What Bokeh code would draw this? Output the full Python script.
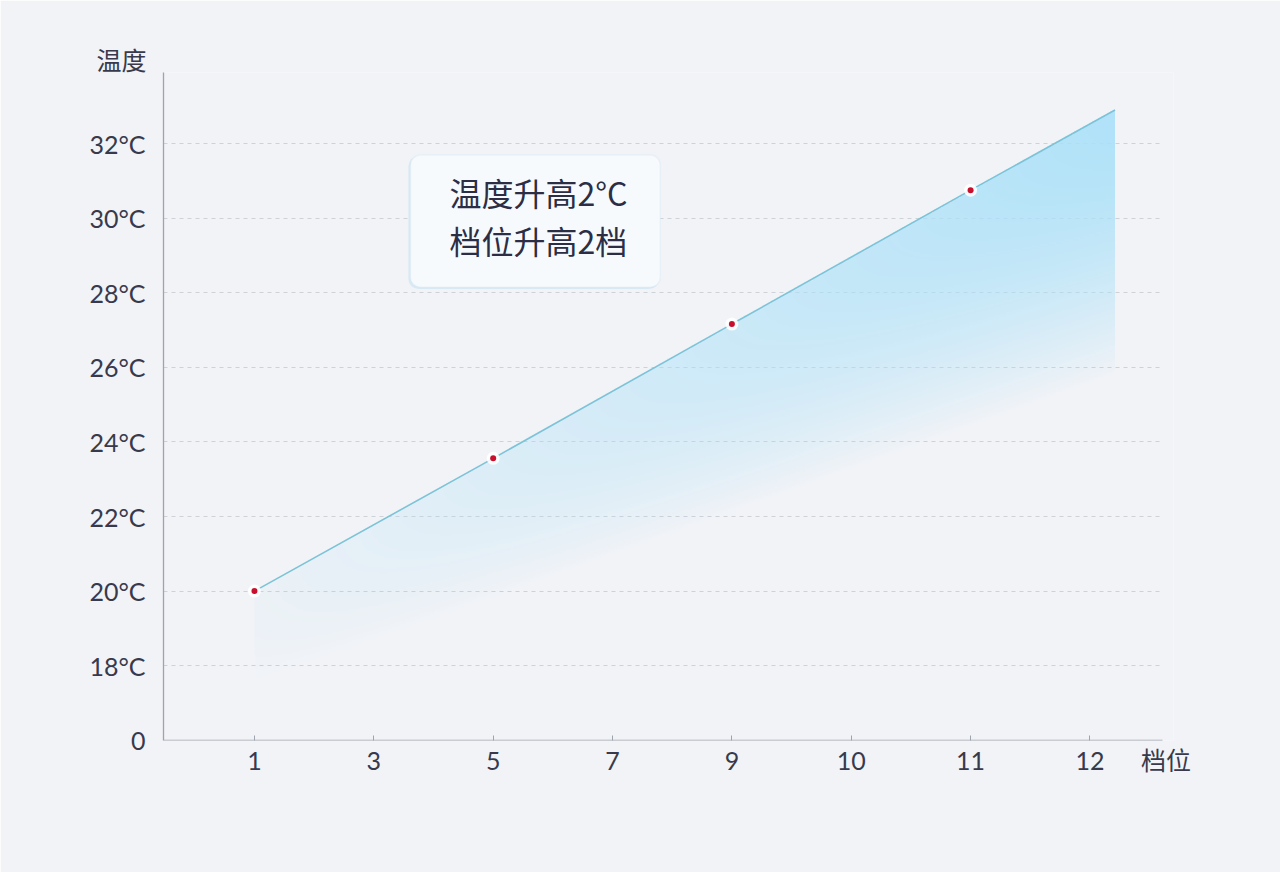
import numpy as np
from bokeh.plotting import figure
from bokeh.models import Range1d, FixedTicker, Label, BoxAnnotation, Grid
from bokeh.embed import file_html
from bokeh.resources import INLINE

# ---- data ----
gear_labels = ["1", "3", "5", "7", "9", "10", "11", "12"]
gear_pos = [0, 1, 2, 3, 4, 5, 6, 7]
temp_ticks = [16, 18, 20, 22, 24, 26, 28, 30, 32]
temp_labels = ["0", "18°C", "20°C", "22°C", "24°C", "26°C", "28°C", "30°C", "32°C"]
point_pos = [0, 2, 4, 6]            # gears 1, 5, 9, 11
point_temp = [20.0, 23.56, 27.16, 30.75]
line_pos = [0, 2, 4, 6, 7.21]
line_temp = [20.0, 23.56, 27.16, 30.75, 32.9]
note_lines = ["温度升高2°C", "档位升高2档"]
y_title = "温度"
x_title = "档位"
x_title_pos = 7.638

TEXT = "#383a4c"
AXIS = "#9ea3ad"
BG = "#f1f3f7"
X_START, X_AXIS_END = -0.762, 7.605

p = figure(width=1280, height=872,
           x_range=Range1d(X_START, 7.70), y_range=Range1d(15.995, 33.905),
           output_backend="svg", toolbar_location=None,
           min_border_left=163, min_border_right=107,
           min_border_top=72, min_border_bottom=132)
p.background_fill_color = BG
p.border_fill_color = BG
p.outline_line_color = None

# y-axis title as plot title, top-left above the axis
p.title.text = y_title
p.title.align = "left"
p.title.offset = -67
p.title.standoff = -9
p.title.text_font = "Noto Sans CJK SC"
p.title.text_font_size = "25px"
p.title.text_font_style = "normal"
p.title.text_color = TEXT

# x axis: labels are majors (incl. the axis title), tick marks are minors
p.xaxis.ticker = FixedTicker(ticks=gear_pos + [x_title_pos], minor_ticks=gear_pos)
overrides = {t: s for t, s in zip(gear_pos, gear_labels)}
overrides[x_title_pos] = x_title
p.xaxis.major_label_overrides = overrides
p.xaxis.axis_line_color = None
p.xaxis.major_tick_line_color = None
p.xaxis.major_tick_in = 0
p.xaxis.major_tick_out = 0
p.xaxis.minor_tick_line_color = AXIS
p.xaxis.minor_tick_in = 5
p.xaxis.minor_tick_out = 0
p.xaxis.major_label_standoff = 4

p.yaxis.ticker = FixedTicker(ticks=temp_ticks)
p.yaxis.major_label_overrides = {t: s for t, s in zip(temp_ticks, temp_labels)}
p.yaxis.axis_line_color = AXIS
p.yaxis.axis_line_width = 1.3
p.yaxis.major_tick_in = 0
p.yaxis.major_tick_out = 0
p.yaxis.major_tick_line_color = None
p.yaxis.minor_tick_line_color = None
p.yaxis.major_label_standoff = 18

for ax in (p.xaxis[0], p.yaxis[0]):
    ax.major_label_text_font = "Lato"
    ax.major_label_text_font_size = "25px"
    ax.major_label_text_color = TEXT
p.xaxis.major_label_text_font = "Lato, 'Noto Sans CJK SC'"

p.xgrid.visible = False
p.ygrid.ticker = FixedTicker(ticks=temp_ticks[1:])
p.ygrid.grid_line_color = "#cdd1d8"
p.ygrid.grid_line_dash = "4 4"
p.ygrid.grid_line_width = 1
p.ygrid.cross_bounds = (X_START, X_AXIS_END)

# solid baseline (x-axis line) ending where the reference axis ends
p.add_layout(Grid(dimension=1, ticker=FixedTicker(ticks=temp_ticks[:1]),
                  grid_line_color=AXIS, grid_line_width=1.3,
                  cross_bounds=(X_START, X_AXIS_END)))

# gradient fill under the line (computed from the line data)
x0, x1 = line_pos[0], line_pos[-1]
y0, y1 = 16.0, line_temp[-1]
nx, ny = 480, 380
xs = x0 + (np.arange(nx) + 0.5) * (x1 - x0) / nx
ys = y0 + (np.arange(ny) + 0.5) * (y1 - y0) / ny
X, Y = np.meshgrid(xs, ys)
t = (X - x0) / (x1 - x0)
top = np.interp(X, line_pos, line_temp)
fade_end = 17.5 + (25.8 - 17.5) * t
d = (top - Y) / (top - fade_end)
f = np.clip(1 - np.clip(d, 0, None) ** 1.8, 0, 1)
A = 0.07 + 0.85 * t
dy = (y1 - y0) / ny
cover = np.clip((top - Y) / dy + 0.5, 0, 1)
alpha = A * f * cover
img = np.zeros((ny, nx), dtype=np.uint32)
view = img.view(dtype=np.uint8).reshape((ny, nx, 4))
view[..., 0] = 170
view[..., 1] = 224
view[..., 2] = 248
view[..., 3] = (np.clip(alpha, 0, 1) * 255).astype(np.uint8)
p.image_rgba(image=[img], x=x0, y=y0, dw=x1 - x0, dh=y1 - y0)

# line and points
p.line(line_pos, line_temp, line_color="#7cc3d8", line_width=1.6)
p.scatter(point_pos, point_temp, size=13, fill_color="white", fill_alpha=0.85,
          line_color=None)
p.scatter(point_pos, point_temp, size=6, fill_color="#c8102e", line_color=None)

# note box
p.add_layout(BoxAnnotation(left=1.29, right=3.39, top=31.66, bottom=28.10,
                           fill_color="#a9d8ee", fill_alpha=0.35, line_color=None,
                           border_radius=10))
p.add_layout(BoxAnnotation(left=1.307, right=3.40, top=31.69, bottom=28.15,
                           fill_color="#f8fafd", fill_alpha=0.97,
                           line_color="#cfe6f2", line_width=1.5,
                           border_radius=10))
p.add_layout(Label(x=2.379, y=30.70, text=note_lines[0], text_align="center",
                   text_baseline="middle", text_font="Noto Sans CJK SC",
                   text_font_size="32px", text_color="#2b2e45"))
p.add_layout(Label(x=2.379, y=29.41, text=note_lines[1], text_align="center",
                   text_baseline="middle", text_font="Noto Sans CJK SC",
                   text_font_size="32px", text_color="#2b2e45"))

open("out.html", "w").write(file_html(p, INLINE))
